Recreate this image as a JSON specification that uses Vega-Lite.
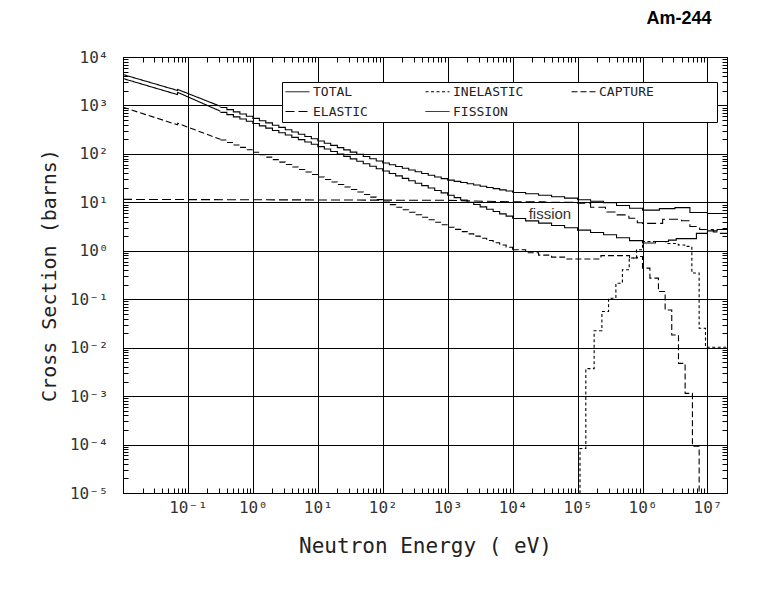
{
  "$schema": "https://vega.github.io/schema/vega-lite/v6.json",
  "width": 604,
  "height": 436,
  "autosize": {"type": "none"},
  "padding": {"left": 123, "top": 57, "right": 53, "bottom": 97},
  "background": "white",
  "title": {
    "text": "Am-244",
    "anchor": "end",
    "dx": -16,
    "offset": 7,
    "baseline": "alphabetic",
    "font": "Liberation Sans",
    "fontSize": 18,
    "fontWeight": "bold",
    "color": "black"
  },
  "config": {"view": {"stroke": "black", "strokeWidth": 1}},
  "datasets": {
    "smooth": [
      {"E": 0.01, "xs": 4345, "r": "TOTAL"},
      {"E": 0.069, "xs": 2042, "r": "TOTAL"},
      {"E": 0.0695, "xs": 2138, "r": "TOTAL"},
      {"E": 0.316, "xs": 960, "r": "TOTAL"},
      {"E": 0.01, "xs": 3597, "r": "FISSION"},
      {"E": 0.069, "xs": 1675, "r": "FISSION"},
      {"E": 0.0695, "xs": 1862, "r": "FISSION"},
      {"E": 0.316, "xs": 760, "r": "FISSION"},
      {"E": 0.01, "xs": 918, "r": "CAPTURE"},
      {"E": 0.069, "xs": 398, "r": "CAPTURE"},
      {"E": 0.0695, "xs": 427, "r": "CAPTURE"},
      {"E": 0.316, "xs": 200, "r": "CAPTURE"},
      {"E": 0.01, "xs": 11.5, "r": "ELASTIC"},
      {"E": 1000, "xs": 11.0, "r": "ELASTIC"},
      {"E": 10000, "xs": 10.2, "r": "ELASTIC"}
    ],
    "steps": [
      {"E": 0.316, "TOTAL": 908, "FISSION": 719, "CAPTURE": 193},
      {"E": 0.398, "TOTAL": 818, "FISSION": 647, "CAPTURE": 172},
      {"E": 0.501, "TOTAL": 738, "FISSION": 582, "CAPTURE": 153},
      {"E": 0.631, "TOTAL": 664, "FISSION": 524, "CAPTURE": 136},
      {"E": 0.794, "TOTAL": 598, "FISSION": 471, "CAPTURE": 122},
      {"E": 1, "TOTAL": 540, "FISSION": 423, "CAPTURE": 108},
      {"E": 1.26, "TOTAL": 484, "FISSION": 379, "CAPTURE": 96.3},
      {"E": 1.58, "TOTAL": 436, "FISSION": 340, "CAPTURE": 85.6},
      {"E": 2.0, "TOTAL": 391, "FISSION": 305, "CAPTURE": 76.1},
      {"E": 2.51, "TOTAL": 352, "FISSION": 273, "CAPTURE": 67.7},
      {"E": 3.16, "TOTAL": 315, "FISSION": 245, "CAPTURE": 60.2},
      {"E": 3.98, "TOTAL": 284, "FISSION": 219, "CAPTURE": 53.5},
      {"E": 5.01, "TOTAL": 255, "FISSION": 197, "CAPTURE": 47.6},
      {"E": 6.31, "TOTAL": 229, "FISSION": 176, "CAPTURE": 42.3},
      {"E": 7.94, "TOTAL": 206, "FISSION": 158, "CAPTURE": 37.6},
      {"E": 10, "TOTAL": 185, "FISSION": 141, "CAPTURE": 33.4},
      {"E": 12.6, "TOTAL": 166, "FISSION": 126, "CAPTURE": 29.6},
      {"E": 15.8, "TOTAL": 150, "FISSION": 112, "CAPTURE": 26.3},
      {"E": 20, "TOTAL": 135, "FISSION": 99.5, "CAPTURE": 23.3},
      {"E": 25.1, "TOTAL": 121, "FISSION": 88.7, "CAPTURE": 20.7},
      {"E": 31.6, "TOTAL": 109, "FISSION": 78.9, "CAPTURE": 18.4},
      {"E": 39.8, "TOTAL": 97.9, "FISSION": 70.3, "CAPTURE": 16.3},
      {"E": 50.1, "TOTAL": 88.1, "FISSION": 62.5, "CAPTURE": 14.5},
      {"E": 63.1, "TOTAL": 79.3, "FISSION": 55.7, "CAPTURE": 12.8},
      {"E": 79.4, "TOTAL": 71.3, "FISSION": 49.5, "CAPTURE": 11.4},
      {"E": 100, "TOTAL": 64.9, "FISSION": 44.2, "CAPTURE": 10.1},
      {"E": 126, "TOTAL": 59.7, "FISSION": 39.4, "CAPTURE": 8.95},
      {"E": 158, "TOTAL": 55.0, "FISSION": 35.1, "CAPTURE": 7.94},
      {"E": 200, "TOTAL": 50.6, "FISSION": 31.3, "CAPTURE": 7.05},
      {"E": 251, "TOTAL": 46.6, "FISSION": 27.9, "CAPTURE": 6.25},
      {"E": 316, "TOTAL": 42.9, "FISSION": 24.8, "CAPTURE": 5.55},
      {"E": 398, "TOTAL": 39.4, "FISSION": 22.1, "CAPTURE": 4.92},
      {"E": 501, "TOTAL": 36.3, "FISSION": 19.7, "CAPTURE": 4.37},
      {"E": 631, "TOTAL": 33.4, "FISSION": 17.6, "CAPTURE": 3.87},
      {"E": 794, "TOTAL": 30.8, "FISSION": 15.7, "CAPTURE": 3.44},
      {"E": 1000, "TOTAL": 28.7, "FISSION": 14.0, "CAPTURE": 3.07},
      {"E": 1259, "TOTAL": 27.1, "FISSION": 12.5, "CAPTURE": 2.76},
      {"E": 1585, "TOTAL": 25.6, "FISSION": 11.2, "CAPTURE": 2.48},
      {"E": 1995, "TOTAL": 24.2, "FISSION": 10.05, "CAPTURE": 2.23},
      {"E": 2512, "TOTAL": 22.8, "FISSION": 8.99, "CAPTURE": 2.01},
      {"E": 3162, "TOTAL": 21.5, "FISSION": 8.05, "CAPTURE": 1.81},
      {"E": 3981, "TOTAL": 20.3, "FISSION": 7.21, "CAPTURE": 1.63},
      {"E": 5012, "TOTAL": 19.2, "FISSION": 6.46, "CAPTURE": 1.46},
      {"E": 6310, "TOTAL": 18.1, "FISSION": 5.78, "CAPTURE": 1.32},
      {"E": 7943, "TOTAL": 17.1, "FISSION": 5.18, "CAPTURE": 1.18},
      {"E": 10000, "TOTAL": 16.0, "FISSION": 4.63, "CAPTURE": 1.05}
    ],
    "high": [
      {"E": 10000, "xs": 16.0, "r": "TOTAL"},
      {"E": 15850, "xs": 15.0, "r": "TOTAL"},
      {"E": 25120, "xs": 14.0, "r": "TOTAL"},
      {"E": 39810, "xs": 13.0, "r": "TOTAL"},
      {"E": 63100, "xs": 12.2, "r": "TOTAL"},
      {"E": 100000, "xs": 11.3, "r": "TOTAL"},
      {"E": 158500, "xs": 10.5, "r": "TOTAL"},
      {"E": 251200, "xs": 9.77, "r": "TOTAL"},
      {"E": 398100, "xs": 8.59, "r": "TOTAL"},
      {"E": 631000, "xs": 7.55, "r": "TOTAL"},
      {"E": 1000000, "xs": 6.92, "r": "TOTAL"},
      {"E": 1820000, "xs": 7.41, "r": "TOTAL"},
      {"E": 3160000, "xs": 7.76, "r": "TOTAL"},
      {"E": 5370000, "xs": 6.17, "r": "TOTAL"},
      {"E": 10000000, "xs": 5.89, "r": "TOTAL"},
      {"E": 20000000, "xs": 5.89, "r": "TOTAL"},
      {"E": 10000, "xs": 4.63, "r": "FISSION"},
      {"E": 15850, "xs": 4.15, "r": "FISSION"},
      {"E": 25120, "xs": 3.72, "r": "FISSION"},
      {"E": 39810, "xs": 3.33, "r": "FISSION"},
      {"E": 63100, "xs": 2.98, "r": "FISSION"},
      {"E": 100000, "xs": 2.67, "r": "FISSION"},
      {"E": 158500, "xs": 2.39, "r": "FISSION"},
      {"E": 251200, "xs": 2.14, "r": "FISSION"},
      {"E": 398100, "xs": 1.86, "r": "FISSION"},
      {"E": 631000, "xs": 1.62, "r": "FISSION"},
      {"E": 1000000, "xs": 1.45, "r": "FISSION"},
      {"E": 1585000, "xs": 1.55, "r": "FISSION"},
      {"E": 2512000, "xs": 1.66, "r": "FISSION"},
      {"E": 3310000, "xs": 1.78, "r": "FISSION"},
      {"E": 6760000, "xs": 2.29, "r": "FISSION"},
      {"E": 10000000, "xs": 2.57, "r": "FISSION"},
      {"E": 14100000, "xs": 2.75, "r": "FISSION"},
      {"E": 20000000, "xs": 2.75, "r": "FISSION"},
      {"E": 10000, "xs": 1.05, "r": "CAPTURE"},
      {"E": 15850, "xs": 0.912, "r": "CAPTURE"},
      {"E": 25120, "xs": 0.813, "r": "CAPTURE"},
      {"E": 39810, "xs": 0.741, "r": "CAPTURE"},
      {"E": 63100, "xs": 0.676, "r": "CAPTURE"},
      {"E": 229000, "xs": 0.794, "r": "CAPTURE"},
      {"E": 631000, "xs": 0.708, "r": "CAPTURE"},
      {"E": 832000, "xs": 0.76, "r": "CAPTURE"},
      {"E": 1000000, "xs": 0.438, "r": "CAPTURE"},
      {"E": 1300000, "xs": 0.272, "r": "CAPTURE"},
      {"E": 1760000, "xs": 0.144, "r": "CAPTURE"},
      {"E": 2230000, "xs": 0.0601, "r": "CAPTURE"},
      {"E": 2820000, "xs": 0.0183, "r": "CAPTURE"},
      {"E": 3580000, "xs": 0.00474, "r": "CAPTURE"},
      {"E": 4530000, "xs": 0.00114, "r": "CAPTURE"},
      {"E": 5870000, "xs": 0.0000925, "r": "CAPTURE"},
      {"E": 7450000, "xs": 0.00001, "r": "CAPTURE"},
      {"E": 108500, "xs": 0.00001, "r": "INELASTIC"},
      {"E": 109000, "xs": 0.000083, "r": "INELASTIC"},
      {"E": 134000, "xs": 0.0037, "r": "INELASTIC"},
      {"E": 180000, "xs": 0.0224, "r": "INELASTIC"},
      {"E": 237000, "xs": 0.0556, "r": "INELASTIC"},
      {"E": 300000, "xs": 0.105, "r": "INELASTIC"},
      {"E": 389000, "xs": 0.214, "r": "INELASTIC"},
      {"E": 490000, "xs": 0.407, "r": "INELASTIC"},
      {"E": 624000, "xs": 0.708, "r": "INELASTIC"},
      {"E": 809000, "xs": 1.05, "r": "INELASTIC"},
      {"E": 1000000, "xs": 1.55, "r": "INELASTIC"},
      {"E": 2290000, "xs": 1.41, "r": "INELASTIC"},
      {"E": 3550000, "xs": 1.32, "r": "INELASTIC"},
      {"E": 4470000, "xs": 1.23, "r": "INELASTIC"},
      {"E": 5750000, "xs": 0.347, "r": "INELASTIC"},
      {"E": 7450000, "xs": 0.0251, "r": "INELASTIC"},
      {"E": 9330000, "xs": 0.0102, "r": "INELASTIC"},
      {"E": 20000000, "xs": 0.0102, "r": "INELASTIC"},
      {"E": 10000, "xs": 10.2, "r": "ELASTIC"},
      {"E": 31600, "xs": 10.0, "r": "ELASTIC"},
      {"E": 100000, "xs": 9.55, "r": "ELASTIC"},
      {"E": 158500, "xs": 7.94, "r": "ELASTIC"},
      {"E": 269000, "xs": 6.31, "r": "ELASTIC"},
      {"E": 398000, "xs": 5.50, "r": "ELASTIC"},
      {"E": 617000, "xs": 4.68, "r": "ELASTIC"},
      {"E": 832000, "xs": 3.80, "r": "ELASTIC"},
      {"E": 1000000, "xs": 3.67, "r": "ELASTIC"},
      {"E": 2040000, "xs": 4.47, "r": "ELASTIC"},
      {"E": 3980000, "xs": 4.17, "r": "ELASTIC"},
      {"E": 5370000, "xs": 3.16, "r": "ELASTIC"},
      {"E": 7590000, "xs": 2.75, "r": "ELASTIC"},
      {"E": 12300000, "xs": 2.45, "r": "ELASTIC"},
      {"E": 15850000, "xs": 2.29, "r": "ELASTIC"},
      {"E": 20000000, "xs": 2.29, "r": "ELASTIC"}
    ],
    "note": [
      {"E": 37500, "xs": 4.6, "label": "fission"}
    ]
  },
  "layer": [
    {
      "data": {"name": "smooth"},
      "mark": {"type": "line", "color": "black", "strokeWidth": 1.1, "clip": true},
      "encoding": {
        "x": {
          "field": "E", "type": "quantitative",
          "scale": {"type": "log", "domain": [0.01, 20000000], "nice": false},
          "axis": {
            "orient": "bottom",
            "title": "Neutron Energy ( eV)",
            "values": [0.01,0.02,0.03,0.04,0.05,0.06,0.07,0.08,0.09,0.1,0.2,0.3,0.4,0.5,0.6,0.7,0.8,0.9,1,2,3,4,5,6,7,8,9,10,20,30,40,50,60,70,80,90,100,200,300,400,500,600,700,800,900,1000,2000,3000,4000,5000,6000,7000,8000,9000,10000,20000,30000,40000,50000,60000,70000,80000,90000,100000,200000,300000,400000,500000,600000,700000,800000,900000,1000000,2000000,3000000,4000000,5000000,6000000,7000000,8000000,9000000,10000000],
            "labelExpr": "datum.value > 0.05 && abs(log(datum.value)/LN10 - round(log(datum.value)/LN10)) < 0.01 ? '10' + (datum.value < 1 ? '⁻' : '') + ['⁰','¹','²','³','⁴','⁵','⁶','⁷','⁸','⁹'][abs(round(log(datum.value)/LN10))] : ''",
            "labelOverlap": false,
            "labelFlush": false,
            "labelFont": "DejaVu Sans Mono",
            "labelFontSize": 16,
            "labelColor": "#333",
            "labelBaseline": "top",
            "labelPadding": 11,
            "grid": true,
            "gridColor": "black",
            "gridWidth": 1,
            "gridOpacity": {"condition": {"test": "abs(log(datum.value)/LN10 - round(log(datum.value)/LN10)) < 0.01", "value": 1}, "value": 0},
            "domain": false,
            "tickSize": -5,
            "tickColor": "black",
            "tickWidth": 1,
            "titleFont": "DejaVu Sans Mono",
            "titleFontSize": 21,
            "titleFontWeight": "normal",
            "titleColor": "#222",
            "titlePadding": 20
          }
        },
        "y": {
          "field": "xs", "type": "quantitative",
          "scale": {"type": "log", "domain": [0.00001, 10000], "nice": false},
          "axis": {
            "orient": "left",
            "title": "Cross Section (barns)",
            "values": [0.00001,0.00002,0.00003,0.00004,0.00005,0.00006,0.00007,0.00008,0.00009,0.0001,0.0002,0.0003,0.0004,0.0005,0.0006,0.0007,0.0008,0.0009,0.001,0.002,0.003,0.004,0.005,0.006,0.007,0.008,0.009,0.01,0.02,0.03,0.04,0.05,0.06,0.07,0.08,0.09,0.1,0.2,0.3,0.4,0.5,0.6,0.7,0.8,0.9,1,2,3,4,5,6,7,8,9,10,20,30,40,50,60,70,80,90,100,200,300,400,500,600,700,800,900,1000,2000,3000,4000,5000,6000,7000,8000,9000,10000],
            "labelExpr": "abs(log(datum.value)/LN10 - round(log(datum.value)/LN10)) < 0.01 ? '10' + (datum.value < 1 ? '⁻' : '') + ['⁰','¹','²','³','⁴','⁵','⁶','⁷','⁸','⁹'][abs(round(log(datum.value)/LN10))] : ''",
            "labelOverlap": false,
            "labelFlush": false,
            "labelFont": "DejaVu Sans Mono",
            "labelFontSize": 16,
            "labelColor": "#333",
            "labelBaseline": "middle",
            "labelAlign": "right",
            "labelPadding": 20,
            "grid": true,
            "gridColor": "black",
            "gridWidth": 1,
            "gridOpacity": {"condition": {"test": "abs(log(datum.value)/LN10 - round(log(datum.value)/LN10)) < 0.01", "value": 1}, "value": 0},
            "domain": false,
            "tickSize": -5,
            "tickColor": "black",
            "tickWidth": 1,
            "titleFont": "DejaVu Sans Mono",
            "titleFontSize": 20,
            "titleFontWeight": "normal",
            "titleColor": "#222",
            "titlePadding": 10
          }
        },
        "strokeDash": {
          "field": "r", "type": "nominal",
          "scale": {
            "domain": ["TOTAL", "INELASTIC", "CAPTURE", "ELASTIC", "FISSION"],
            "range": [[1, 0], [3, 2.5], [6, 3], [9, 4], [1, 0]]
          },
          "legend": {
            "title": null,
            "orient": "none",
            "legendX": 159,
            "legendY": 25,
            "direction": "horizontal",
            "columns": 3,
            "gridAlign": "each",
            "columnPadding": 47,
            "rowPadding": 6,
            "padding": 3,
            "clipHeight": 13,
            "symbolType": "stroke",
            "symbolSize": 576,
            "symbolStrokeWidth": 1,
            "symbolStrokeColor": "black",
            "labelOffset": 3,
            "labelFont": "DejaVu Sans Mono",
            "labelFontSize": 13,
            "labelColor": "#222",
            "labelExpr": "datum.label == 'ELASTIC' ? 'ELASTIC\u2800' : datum.label == 'CAPTURE' ? 'CAPTURE\u2800\u2800\u2800\u2800\u2800\u2800' : datum.label",
            "fillColor": "white",
            "strokeColor": "black"
          }
        }
      }
    },
    {
      "data": {"name": "steps"},
      "transform": [{"fold": ["TOTAL", "FISSION", "CAPTURE"], "as": ["r", "xs"]}],
      "mark": {"type": "line", "color": "black", "strokeWidth": 1.1, "interpolate": "step-after", "clip": true},
      "encoding": {
        "x": {"field": "E", "type": "quantitative", "scale": {"type": "log", "domain": [0.01, 20000000], "nice": false}, "axis": null},
        "y": {"field": "xs", "type": "quantitative", "scale": {"type": "log", "domain": [0.00001, 10000], "nice": false}, "axis": null},
        "strokeDash": {"field": "r", "type": "nominal", "legend": null}
      }
    },
    {
      "data": {"name": "high"},
      "mark": {"type": "line", "color": "black", "strokeWidth": 1.1, "interpolate": "step-after", "clip": true},
      "encoding": {
        "x": {"field": "E", "type": "quantitative", "scale": {"type": "log", "domain": [0.01, 20000000], "nice": false}, "axis": null},
        "y": {"field": "xs", "type": "quantitative", "scale": {"type": "log", "domain": [0.00001, 10000], "nice": false}, "axis": null},
        "strokeDash": {"field": "r", "type": "nominal", "legend": null}
      }
    },
    {
      "data": {"name": "note"},
      "mark": {"type": "text", "font": "Liberation Sans", "fontSize": 15, "color": "#333", "align": "center", "baseline": "alphabetic"},
      "encoding": {
        "x": {
          "field": "E", "type": "quantitative",
          "scale": {"type": "log", "domain": [0.01, 20000000], "nice": false},
          "axis": {
            "orient": "top", "title": null, "labels": false, "grid": false, "domain": false,
            "values": [0.01,0.02,0.03,0.04,0.05,0.06,0.07,0.08,0.09,0.1,0.2,0.3,0.4,0.5,0.6,0.7,0.8,0.9,1,2,3,4,5,6,7,8,9,10,20,30,40,50,60,70,80,90,100,200,300,400,500,600,700,800,900,1000,2000,3000,4000,5000,6000,7000,8000,9000,10000,20000,30000,40000,50000,60000,70000,80000,90000,100000,200000,300000,400000,500000,600000,700000,800000,900000,1000000,2000000,3000000,4000000,5000000,6000000,7000000,8000000,9000000,10000000],
            "tickSize": -5, "tickColor": "black", "tickWidth": 1
          }
        },
        "y": {
          "field": "xs", "type": "quantitative",
          "scale": {"type": "log", "domain": [0.00001, 10000], "nice": false},
          "axis": {
            "orient": "right", "title": null, "labels": false, "grid": false, "domain": false,
            "values": [0.00001,0.00002,0.00003,0.00004,0.00005,0.00006,0.00007,0.00008,0.00009,0.0001,0.0002,0.0003,0.0004,0.0005,0.0006,0.0007,0.0008,0.0009,0.001,0.002,0.003,0.004,0.005,0.006,0.007,0.008,0.009,0.01,0.02,0.03,0.04,0.05,0.06,0.07,0.08,0.09,0.1,0.2,0.3,0.4,0.5,0.6,0.7,0.8,0.9,1,2,3,4,5,6,7,8,9,10,20,30,40,50,60,70,80,90,100,200,300,400,500,600,700,800,900,1000,2000,3000,4000,5000,6000,7000,8000,9000,10000],
            "tickSize": -5, "tickColor": "black", "tickWidth": 1
          }
        },
        "text": {"field": "label", "type": "nominal"}
      }
    }
  ],
  "resolve": {"axis": {"x": "independent", "y": "independent"}}
}
